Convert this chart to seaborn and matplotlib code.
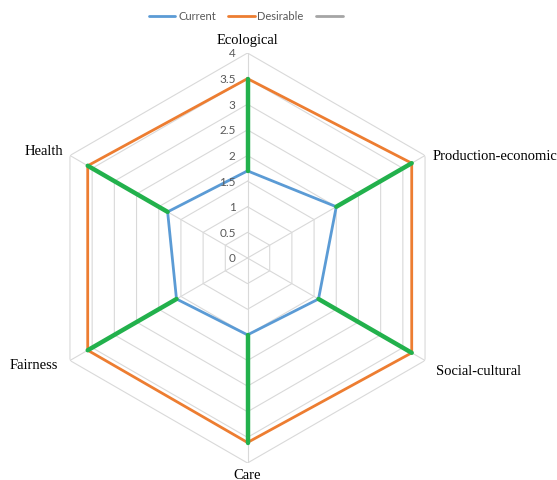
import numpy as np
import pandas as pd
import matplotlib
matplotlib.use("Agg")
import matplotlib.pyplot as plt
from matplotlib.lines import Line2D
import seaborn as sns

categories = ["Ecological", "Production-economic", "Social-cultural",
              "Care", "Fairness", "Health"]
current = [1.7, 2.0, 1.6, 1.5, 1.6, 1.8]
desirable = [3.5, 3.7, 3.7, 3.6, 3.6, 3.6]
r_ticks = [0, 0.5, 1, 1.5, 2, 2.5, 3, 3.5, 4]
r_tick_labels = ["0", "0.5", "1", "1.5", "2", "2.5", "3", "3.5", "4"]
series_names = ["Current", "Desirable", ""]

BLUE = "#5B9BD5"
ORANGE = "#ED7D31"
GREY = "#A5A5A5"
GREEN = "#22B14C"
GRID = "#D9D9D9"
TEXT_GREY = "#595959"

sns.set_style("white")
plt.rcParams["font.family"] = ["Lato", "DejaVu Sans"]

fig = plt.figure(figsize=(5.57, 4.81), dpi=100)
ax = fig.add_axes([42.5 / 557, 17 / 481, 410 / 557, 410 / 481], projection="polar")
ax.set_theta_zero_location("N")
ax.set_theta_direction(-1)
ax.set_ylim(0, 4)
ax.grid(False)
ax.spines["polar"].set_visible(False)
ax.set_xticks([])
ax.set_yticks([])
ax.set_facecolor("none")

n = len(categories)
theta = np.linspace(0, 2 * np.pi, n, endpoint=False)
theta_closed = np.append(theta, 2 * np.pi)

# hexagonal grid rings and spokes
for r in r_ticks[1:]:
    ax.plot(theta_closed, [r] * (n + 1), color=GRID, lw=0.8, zorder=1)
for t in theta:
    ax.plot([t, t], [0, r_ticks[-1]], color=GRID, lw=0.8, zorder=1)

# the two profiles
df = pd.DataFrame({
    "theta": np.tile(theta_closed, 2),
    "value": current + [current[0]] + desirable + [desirable[0]],
    "series": [series_names[0]] * (n + 1) + [series_names[1]] * (n + 1),
})
sns.lineplot(data=df, x="theta", y="value", hue="series",
             palette={series_names[0]: BLUE, series_names[1]: ORANGE},
             sort=False, estimator=None, lw=2, ax=ax, legend=False, zorder=3)

# gap between current and desirable on each dimension
seg = pd.DataFrame({
    "theta": np.repeat(theta, 2),
    "value": np.ravel(np.column_stack([current, desirable])),
    "category": np.repeat(categories, 2),
})
sns.lineplot(data=seg, x="theta", y="value", units="category", estimator=None,
             sort=False, color=GREEN, lw=3.2, ax=ax, legend=False, zorder=4)
ax.set_xlabel("")
ax.set_ylabel("")

# radial tick labels along the top spoke
for r, lab in zip(r_ticks, r_tick_labels):
    ax.annotate(lab, xy=(0, r), xytext=(-8.5, 0), textcoords="offset points",
                ha="right", va="center", fontsize=8.5, color=TEXT_GREY,
                annotation_clip=False)

# dimension labels
label_offsets = [(0, 10), (5.8, 0), (8, -7), (0, -8.6), (-8.6, -2.9), (-5, 3.6)]
label_align = ["center", "left", "left", "center", "right", "right"]
for t, name, off, ha in zip(theta, categories, label_offsets, label_align):
    ax.annotate(name, xy=(t, r_ticks[-1]), xytext=off, textcoords="offset points",
                ha=ha, va="center", fontsize=10.5, family="Liberation Serif",
                color="#000000", annotation_clip=False)

handles = [Line2D([], [], color=c, lw=2) for c in (BLUE, ORANGE, GREY)]
fig.legend(handles, series_names, loc="center",
           bbox_to_anchor=(247 / 557, 1 - 17 / 481), ncol=3, frameon=False,
           fontsize=8, handlelength=2.4, columnspacing=1.1, handletextpad=0.25,
           labelcolor=TEXT_GREY)

fig.savefig("out.png", dpi=100)
